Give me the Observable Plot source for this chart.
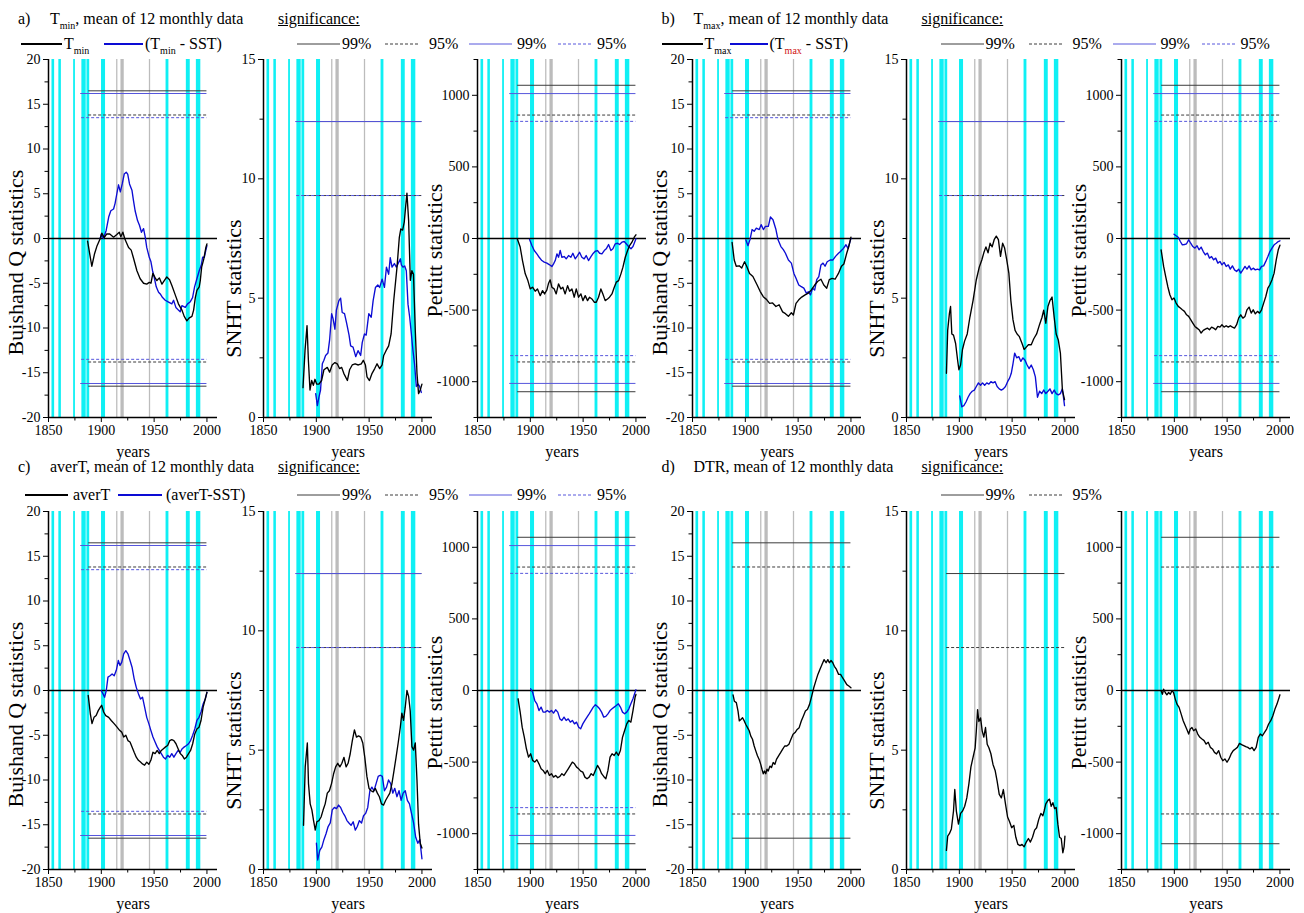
<!DOCTYPE html>
<html><head><meta charset="utf-8">
<script src="https://cdn.jsdelivr.net/npm/d3@7"></script>
<script src="https://cdn.jsdelivr.net/npm/@observablehq/plot@0.6"></script>
<style>
body{margin:0;background:#fff;}
#root{position:relative;width:1304px;height:913px;font-family:"Liberation Serif","Times New Roman",serif;color:#000;overflow:hidden;background:#fff}
#root svg, #root svg text{font-family:"Liberation Serif","Times New Roman",serif !important}
.t{position:absolute;white-space:nowrap;line-height:16px;font-size:16px}
.t sub{font-size:10px;vertical-align:-5px;line-height:0}
.u{text-decoration:underline}
.seg{position:absolute;overflow:visible}
svg [aria-label="x-axis label"]{font-size:16px}
</style></head>
<body><div id="root"></div>
<script>
// ---------- data ----------
const xMajor = [1850, 1900, 1950, 2000];
const xMinor = [1875, 1925, 1975];
const cyanBars = [[1853.3,1855.8],[1859.8,1862.2],[1873.8,1875.5],[1881.6,1885.7],[1886.4,1889],[1900.2,1904],[1961.3,1964],[1980.5,1984.2],[1990,1994.2]];
const greyBars = [[1914.5,1915.7],[1918.6,1921.7],[1945.5,1946.7]];

// critical values [black series, blue series]
const critQ99 = [16.5, 16.2], critQ95 = [13.8, 13.5];
const critS99 = [12.4, 12.4], critS95 = [9.3, 9.3];
const critP99 = [1070, 1012], critP95 = [862, 818];
const critStart = [1888, 1880.5], critEnd = 2000;

// a) Tmin
const aQ_T = [[1887,-0.3],[1891,-3.1],[1893.6,-1.7],[1896,-0.8],[1899,0],[1900.5,0.6],[1902.7,0.1],[1905,0.5],[1908,0.5],[1911.6,0.15],[1914.7,0.45],[1917,0.7],[1918.5,0.2],[1920.4,0.7],[1922.6,-0.15],[1925.8,-1.0],[1928.3,-1.3],[1930.5,-2.2],[1933.7,-3.6],[1936.8,-4.5],[1940,-5.0],[1943,-5.1],[1945.4,-4.9],[1947,-5.0],[1948.8,-3.9],[1951,-4.4],[1952.6,-4.7],[1955,-4.4],[1957.4,-5.1],[1959.6,-4.7],[1962,-4.3],[1964.6,-4.6],[1966.8,-5.25],[1970,-6.3],[1973,-7.3],[1976.3,-8.0],[1978.5,-8.7],[1981,-9.2],[1983,-8.9],[1985.8,-8.7],[1987.4,-8.0],[1989,-6.6],[1990.5,-5.8],[1992.7,-5.4],[1993.7,-4.7],[1995,-3.2],[1997,-2.3],[1999,-1.0],[2000,-0.6]];
const aQ_S = [[1899,0],[1900,0.5],[1902,0],[1904.6,0.9],[1907,2.4],[1909,3.1],[1911.6,3.3],[1913,3.9],[1914.7,5.0],[1916.3,6.0],[1918,5.2],[1919.8,6.1],[1921.7,7.2],[1923.6,7.4],[1925,7.2],[1926.7,6.1],[1929,5.4],[1930.5,4.2],[1932,3.1],[1934.3,2.0],[1936.2,1.45],[1938,0.7],[1940,1.1],[1941.6,0.15],[1943,-1.0],[1945.4,-2.1],[1947,-2.6],[1948.5,-3.6],[1950,-4.3],[1952,-5.4],[1954.2,-6.0],[1955.8,-6.2],[1958,-6.6],[1960.5,-6.9],[1963.7,-7.1],[1966.8,-7.3],[1968.4,-6.9],[1970.6,-7.7],[1973,-8.0],[1974.7,-8.2],[1976.3,-7.5],[1979.5,-7.7],[1981.7,-7.3],[1984,-7.1],[1986.4,-6.6],[1988.3,-5.4],[1990.5,-4.5],[1992.7,-3.6],[1994.6,-3.0],[1995.9,-2.1],[1997.5,-2.1],[1999,-1.3],[2000,-0.8]];
const aS_T = [[1887.4,1.25],[1889.3,2.8],[1891.2,3.85],[1892.5,2.4],[1894,1.15],[1895.6,1.55],[1897.2,1.35],[1898.7,1.6],[1900.3,1.4],[1902.5,1.4],[1905,1.55],[1907.2,2.0],[1910.4,2.1],[1912.6,1.9],[1915,2.2],[1917.6,2.3],[1919.8,2.25],[1922,2.05],[1924,2.1],[1926,1.85],[1929.4,1.55],[1931.5,2.0],[1934,2.2],[1936.7,2.25],[1939.8,2.2],[1942.6,2.25],[1944.5,2.4],[1946.5,2.2],[1948,1.7],[1950.3,1.55],[1952.8,1.85],[1955.3,2.05],[1957.5,2.25],[1960,2.05],[1962.3,2.2],[1963.8,2.6],[1966,2.8],[1968.5,3.0],[1970.8,3.5],[1973.3,4.9],[1976.4,6.3],[1978.6,7.55],[1980,7.9],[1981.7,7.85],[1983.3,8.2],[1984.8,8.95],[1985.8,9.4],[1987.4,8.25],[1989,5.75],[1990.5,6.15],[1992,6.0],[1993.7,3.65],[1995.3,1.85],[1996.8,1.0],[1998.4,1.15],[2000,1.4]];
const aS_S = [[1899.4,1.0],[1901,0.5],[1902.5,0.85],[1904,1.15],[1905.7,2.25],[1907.2,2.4],[1908.8,2.6],[1911,2.7],[1912.6,3.25],[1914.5,4.35],[1915.8,4.15],[1917.6,3.7],[1919,4.5],[1921.4,4.9],[1923,5.0],[1924.5,4.4],[1926.7,4.35],[1928.7,3.95],[1931,3.45],[1932.5,3.0],[1934.8,2.95],[1937.3,2.55],[1939.5,2.8],[1942,2.6],[1943.5,3.15],[1945.6,3.5],[1947.2,3.45],[1949.7,4.35],[1952,4.2],[1953.8,4.9],[1956,5.45],[1958.2,5.55],[1960,5.45],[1962.3,5.8],[1964.5,5.45],[1966.4,6.3],[1968.5,6.0],[1970,6.7],[1971.7,6.3],[1973.9,6.45],[1975.8,6.3],[1978,6.5],[1979.6,6.65],[1980.5,6.4],[1982,6.3],[1983.7,6.35],[1985.2,6.15],[1986.8,4.75],[1988.4,4.2],[1990,3.5],[1991.5,2.8],[1993,2.25],[1994.7,1.3],[1996.3,1.4],[1997.8,1.3],[1999.4,1.05]];
const aP_T = [[1887.9,-7],[1890.4,-60],[1892.6,-154],[1895.2,-247],[1897.7,-294],[1899.9,-352],[1902.1,-340],[1904.6,-368],[1906.8,-352],[1909.4,-399],[1911.6,-364],[1913.5,-387],[1915.7,-359],[1917.3,-312],[1918.8,-289],[1920.4,-340],[1922.6,-352],[1924.5,-387],[1926.7,-317],[1928.9,-352],[1930.8,-340],[1933,-387],[1935.3,-329],[1937.2,-368],[1939.4,-352],[1941.6,-410],[1943.5,-352],[1945.7,-410],[1947.9,-387],[1949.8,-434],[1952,-399],[1954.2,-434],[1956.1,-410],[1958.3,-422],[1960.5,-445],[1962.4,-445],[1964.6,-410],[1966.8,-352],[1968.7,-387],[1970.9,-434],[1973.1,-422],[1975,-410],[1977.3,-387],[1979.5,-340],[1981.4,-305],[1983.6,-294],[1985.8,-247],[1987.7,-200],[1989.9,-131],[1992.1,-84],[1994,-49],[1996.2,-26],[1998.4,9],[2000,26]];
const aP_S = [[1899.3,-7],[1901.5,-49],[1903.7,-84],[1906.2,-107],[1908.4,-131],[1910.9,-154],[1913.2,-165],[1915.7,-172],[1917.9,-182],[1920.4,-196],[1922,-177],[1923.6,-154],[1925.2,-107],[1926.7,-131],[1928.3,-84],[1929.9,-131],[1932.1,-126],[1934,-142],[1936.2,-119],[1938.4,-131],[1940.3,-103],[1942.5,-142],[1944.7,-119],[1946.6,-96],[1948.8,-131],[1951,-142],[1952.9,-119],[1955.1,-154],[1957.4,-126],[1959.2,-107],[1961.5,-89],[1963.7,-84],[1965.6,-103],[1967.8,-107],[1970,-84],[1971.9,-72],[1974.1,-42],[1976.3,-84],[1978.2,-72],[1980.4,-37],[1982.6,-33],[1984.5,-42],[1986.7,-26],[1988.9,-21],[1990.8,-37],[1993,-56],[1995.3,-72],[1997.2,-56],[1999.4,-14],[2000,-2]];

// b) Tmax
const bQ_T = [[1887.5,-0.45],[1889.5,-2.4],[1891.4,-3.1],[1894.2,-3.05],[1896.6,-3.3],[1899.3,-2.6],[1901.3,-3.1],[1904,-3.9],[1907.2,-4.25],[1911.2,-5.2],[1914,-5.9],[1917,-6.5],[1920,-6.8],[1923,-7.25],[1925.8,-7.2],[1929,-7.6],[1932,-7.4],[1935.3,-8.2],[1938,-8.4],[1940.8,-8.7],[1943.6,-8.3],[1945.5,-8.55],[1948,-7.25],[1950.6,-6.85],[1953.4,-6.55],[1956.6,-6.3],[1959.7,-6.1],[1962.5,-5.75],[1965.7,-5.2],[1968.4,-4.8],[1971.6,-4.55],[1974.3,-5.2],[1977.1,-5.55],[1979.5,-4.6],[1982.2,-4.45],[1985,-4.55],[1988.2,-3.9],[1991,-3.1],[1993.3,-2.85],[1996,-1.65],[1998,-0.9],[2000,0.15]];
const bQ_S = [[1900.5,-0.15],[1902.5,-0.8],[1904.5,-0.1],[1906.4,1.0],[1908.4,0.8],[1910.4,1.15],[1913.2,1.0],[1915,1.55],[1917.1,1.0],[1919,1.35],[1921.8,1.35],[1923.8,2.4],[1926.2,2.1],[1929,1.0],[1931,-0.15],[1933.7,-0.9],[1936,-1.25],[1938,-1.65],[1940.8,-2.4],[1943.6,-2.75],[1946,-3.9],[1948,-4.45],[1950.6,-5.2],[1952.6,-5.35],[1955.4,-5.55],[1957.8,-6.1],[1959.7,-5.95],[1961.7,-6.3],[1963.7,-5.55],[1965.7,-5.75],[1967.6,-4.6],[1969.6,-4.25],[1971.6,-2.95],[1973.6,-2.75],[1975.5,-3.1],[1977.5,-2.6],[1980.3,-2.4],[1983,-2.4],[1985.4,-2.0],[1988.2,-1.65],[1990.1,-1.45],[1992.9,-1.1],[1995.3,-0.7],[1997.2,-1.1],[2000,0]];
const bS_T = [[1887.8,1.85],[1889,3.65],[1890.6,4.35],[1891.7,4.65],[1892.9,3.5],[1894.5,3.45],[1896.5,3.1],[1898.4,2.4],[1899.6,2.0],[1901.2,2.2],[1903,2.85],[1905,3.2],[1907.5,3.5],[1910,4.2],[1913,4.9],[1916,5.75],[1918.9,6.3],[1921.3,6.6],[1923.2,6.9],[1925.2,7.15],[1927.2,6.9],[1929.1,7.3],[1931.1,7.15],[1933,7.45],[1935,7.6],[1937,7.45],[1939,6.75],[1941,7.3],[1942.9,7.1],[1944.9,6.6],[1946.9,6.05],[1948.8,4.9],[1950.8,4.1],[1952.8,3.65],[1954.7,3.5],[1956.7,3.4],[1959.4,3.1],[1961.4,2.85],[1963.4,2.95],[1965.4,3.05],[1968.1,3.05],[1970.5,3.3],[1973.2,3.5],[1976,3.9],[1978.3,4.2],[1979.9,4.5],[1981.9,3.95],[1983.9,4.65],[1985.8,4.9],[1987.8,5.05],[1989.8,4.2],[1991.7,3.5],[1993.7,3.25],[1995.7,2.7],[1997.6,1.15],[1999.6,0.75]];
const bS_S = [[1900.4,0.9],[1902.4,0.45],[1904.3,0.5],[1906.3,0.65],[1908.3,0.85],[1910.2,1.0],[1912.2,1.1],[1914.2,1.15],[1916.1,1.3],[1918.1,1.45],[1920.1,1.35],[1922,1.45],[1924,1.35],[1926,1.45],[1928,1.4],[1929.9,1.5],[1931.9,1.45],[1933.9,1.5],[1935.8,1.3],[1937.8,1.2],[1939.8,1.15],[1941.7,1.2],[1943.7,1.3],[1945.7,1.5],[1947.6,1.65],[1949.2,1.85],[1950.8,2.25],[1952.4,2.7],[1954.3,2.5],[1956.3,2.55],[1958.3,2.35],[1960.2,2.5],[1962.2,2.4],[1964.2,2.2],[1966.1,2.05],[1968.1,2.2],[1970.1,2.0],[1972,1.7],[1974,0.85],[1976,1.1],[1978,1.0],[1979.9,1.15],[1981.9,1.0],[1983.9,1.1],[1985.8,1.2],[1987.8,1.0],[1989.8,1.15],[1991.7,1.0],[1993.7,0.95],[1995.7,1.0],[1997.6,1.2],[1999.6,0.5]];
const bP_T = [[1887.5,-79],[1889.9,-195],[1891.8,-265],[1893.8,-335],[1895.8,-393],[1897.8,-428],[1899.7,-416],[1901.7,-451],[1903.7,-474],[1905.7,-486],[1907.6,-498],[1909.6,-509],[1911.6,-533],[1913.6,-544],[1915.5,-567],[1917.5,-591],[1919.5,-614],[1921.5,-626],[1923.4,-637],[1925.4,-660],[1927.4,-642],[1929.4,-633],[1931.3,-626],[1933.3,-637],[1935.3,-619],[1937.2,-626],[1939.2,-637],[1941.2,-614],[1943.2,-619],[1945.1,-602],[1947.1,-619],[1949.1,-609],[1951.1,-619],[1953,-609],[1955,-619],[1957,-626],[1959,-602],[1960.9,-556],[1962.9,-533],[1964.9,-556],[1966.9,-544],[1968.8,-498],[1970.8,-479],[1972.8,-521],[1974.7,-498],[1976.7,-526],[1978.7,-509],[1980.7,-521],[1982.6,-498],[1984.6,-451],[1986.6,-405],[1988.6,-347],[1990.5,-323],[1992.5,-288],[1994.5,-242],[1996.5,-149],[1998.4,-79],[2000,-47]];
const bP_S = [[1899.7,30],[1901.7,19],[1903.7,9],[1905.7,-21],[1907.6,-44],[1909.6,-42],[1911.6,-37],[1913.6,-9],[1915.5,-33],[1917.5,-56],[1919.5,-67],[1921.5,-51],[1923.4,-79],[1925.4,-60],[1927.4,-91],[1929.4,-114],[1931.3,-102],[1933.3,-137],[1935.3,-126],[1937.2,-149],[1939.2,-137],[1941.2,-172],[1943.2,-160],[1945.1,-184],[1947.1,-167],[1949.1,-195],[1951.1,-184],[1953,-214],[1955,-191],[1957,-219],[1959,-230],[1960.9,-214],[1962.9,-242],[1964.9,-219],[1966.9,-195],[1968.8,-214],[1970.8,-191],[1972.8,-219],[1974.7,-207],[1976.7,-219],[1978.7,-214],[1980.7,-219],[1982.6,-195],[1984.6,-191],[1986.6,-160],[1988.6,-126],[1990.5,-91],[1992.5,-67],[1994.5,-44],[1996.5,-33],[1998.4,-21],[2000,-16]];

// c) averT
const cQ_T = [[1887.6,-0.55],[1889.6,-2.6],[1891.2,-3.7],[1893.1,-3.0],[1895.1,-2.8],[1897.1,-2.25],[1899.1,-1.85],[1900.3,-1.65],[1902.2,-2.4],[1904.2,-2.8],[1907,-3.0],[1909.4,-3.35],[1912.1,-3.7],[1914.9,-4.1],[1917.3,-4.45],[1919.3,-4.65],[1921.2,-5.2],[1923.2,-5.0],[1925.2,-5.6],[1927.2,-5.75],[1929.1,-6.3],[1931.1,-6.9],[1933.1,-7.45],[1935.1,-7.8],[1937.1,-8.0],[1939,-8.2],[1941,-8.35],[1943,-8.0],[1945,-8.25],[1946.9,-7.8],[1948.9,-6.9],[1950.9,-7.05],[1952.9,-6.7],[1954.9,-7.05],[1956.8,-6.7],[1958.8,-6.5],[1960.8,-6.3],[1962.8,-6.15],[1964.8,-5.6],[1966.7,-5.5],[1968.7,-5.6],[1970.7,-5.95],[1972.7,-6.5],[1974.7,-7.05],[1976.6,-7.25],[1978.6,-7.65],[1980.6,-7.45],[1982.6,-7.05],[1984.5,-6.7],[1986.5,-5.95],[1988.5,-4.85],[1990.5,-4.3],[1992.5,-4.1],[1994.4,-3.35],[1996.4,-1.85],[1998.4,-0.95],[2000,-0.2]];
const cQ_S = [[1899.9,0],[1901.5,-0.35],[1903.1,-0.75],[1904.7,0],[1906.3,1.5],[1908.3,1.65],[1910.2,1.85],[1912.2,1.65],[1914.2,2.25],[1916.1,3.35],[1917.7,2.8],[1919.3,3.15],[1921.2,4.1],[1923.2,4.45],[1925.2,4.1],[1927.2,3.35],[1929.1,2.6],[1931.1,1.3],[1933.1,0.35],[1935.1,-0.35],[1937.1,-0.95],[1939,-0.75],[1941,-1.85],[1943,-3.0],[1945,-3.7],[1946.9,-4.45],[1948.9,-5.2],[1950.9,-5.75],[1952.9,-6.3],[1954.9,-6.7],[1956.8,-7.05],[1958.8,-7.45],[1960.8,-7.65],[1962.8,-7.25],[1964.8,-7.45],[1966.7,-7.05],[1968.7,-7.45],[1970.7,-7.05],[1972.7,-6.7],[1974.7,-6.9],[1976.6,-6.5],[1978.6,-6.3],[1980.6,-6.15],[1982.6,-5.95],[1984.5,-5.6],[1986.5,-5.0],[1988.5,-4.3],[1990.5,-3.35],[1992.5,-3.0],[1994.4,-2.4],[1996.4,-1.5],[1998.4,-0.95],[2000,-0.2]];
const cS_T = [[1887.9,1.85],[1889.5,4.3],[1891.5,5.3],[1892.6,3.6],[1894.2,2.75],[1895.8,2.5],[1897.4,2.05],[1899,1.65],[1900.5,2.0],[1902.5,2.05],[1904.5,2.2],[1906.5,2.5],[1908.4,2.75],[1910.4,3.2],[1912.4,3.3],[1914.4,3.6],[1916.3,4.0],[1918.3,4.3],[1920.3,4.45],[1922.3,4.3],[1924.2,4.45],[1926.2,4.7],[1928.2,4.3],[1930.1,4.45],[1932.1,4.85],[1934.1,5.4],[1936.1,5.85],[1938,5.55],[1940,5.6],[1942,5.55],[1944,5.3],[1945.9,4.7],[1947.9,3.9],[1949.9,3.4],[1951.8,3.3],[1953.8,3.25],[1955.8,3.4],[1957.8,3.2],[1959.7,3.05],[1961.7,2.75],[1963.7,2.7],[1965.7,2.9],[1967.6,3.05],[1969.6,3.2],[1971.6,3.6],[1973.6,4.15],[1975.5,4.7],[1977.5,5.3],[1979.5,5.95],[1981,6.55],[1982.6,6.25],[1984.2,6.8],[1985.8,7.5],[1987.4,7.25],[1988.9,6.65],[1990.5,5.15],[1992.1,5.0],[1993.7,5.3],[1995.3,3.75],[1996.8,1.9],[1998.4,1.1],[2000,0.9]];
const cS_S = [[1900.1,1.1],[1901.3,0.4],[1903.3,0.8],[1905.3,0.95],[1907.2,1.25],[1909.2,1.5],[1911.2,1.8],[1913.2,1.95],[1915.1,2.5],[1917.1,2.6],[1919.1,2.55],[1921.1,2.7],[1923,2.6],[1925,2.4],[1927,2.25],[1929,2.05],[1930.9,1.95],[1932.9,1.85],[1934.9,2.0],[1936.9,1.65],[1938.8,1.8],[1940.8,2.05],[1942.8,1.95],[1944.7,2.25],[1946.7,2.35],[1948.7,2.6],[1950.7,3.3],[1952.6,3.45],[1954.6,3.3],[1956.6,3.6],[1958.6,3.9],[1960.5,3.95],[1962.5,3.9],[1964.5,3.3],[1966.5,3.45],[1968.4,3.75],[1970.4,3.6],[1972.4,3.2],[1974.3,3.4],[1976.3,3.05],[1978.3,3.3],[1980.3,2.9],[1982.2,3.2],[1984.2,3.3],[1986.2,2.9],[1988.2,2.75],[1990.1,2.35],[1992.1,1.95],[1994.1,1.35],[1996.1,1.1],[1998,1.25],[2000,0.45]];
const cP_T = [[1888.4,-58],[1890.4,-151],[1892.3,-256],[1894.3,-326],[1896.3,-407],[1898.3,-465],[1900.3,-442],[1902.2,-488],[1904.2,-500],[1906.2,-484],[1908.2,-512],[1910.2,-547],[1912.1,-558],[1914.1,-581],[1916.1,-558],[1918.1,-593],[1920,-581],[1922,-605],[1924,-593],[1926,-609],[1928,-600],[1929.9,-581],[1931.9,-593],[1933.9,-570],[1935.9,-547],[1937.9,-523],[1939.8,-500],[1941.8,-512],[1943.8,-535],[1945.8,-547],[1947.7,-563],[1949.7,-570],[1951.7,-605],[1953.7,-616],[1955.7,-605],[1957.6,-581],[1959.6,-593],[1961.6,-558],[1963.6,-523],[1965.6,-547],[1967.5,-581],[1969.5,-600],[1971.5,-616],[1973.5,-558],[1975.5,-465],[1977.4,-442],[1979.4,-454],[1981.4,-430],[1983.4,-454],[1985.3,-419],[1987.3,-326],[1989.3,-279],[1991.3,-233],[1993.3,-209],[1995.2,-221],[1997.2,-140],[1999.2,-47],[2000,-28]];
const cP_S = [[1900.3,12],[1902.2,-12],[1904.2,-70],[1906.2,-93],[1908.2,-140],[1910.2,-116],[1912.1,-151],[1914.1,-151],[1916.1,-140],[1918.1,-151],[1920,-140],[1922,-158],[1924,-135],[1926,-151],[1928,-198],[1929.9,-209],[1931.9,-186],[1933.9,-209],[1935.9,-198],[1937.9,-221],[1939.8,-209],[1941.8,-233],[1943.8,-221],[1945.8,-256],[1947.7,-267],[1949.7,-233],[1951.7,-209],[1953.7,-186],[1955.7,-163],[1957.6,-140],[1959.6,-116],[1961.6,-100],[1963.6,-112],[1965.6,-128],[1967.5,-151],[1969.5,-186],[1971.5,-181],[1973.5,-163],[1975.5,-140],[1977.4,-128],[1979.4,-116],[1981.4,-105],[1983.4,-93],[1985.3,-116],[1987.3,-151],[1989.3,-163],[1991.3,-151],[1993.3,-128],[1995.2,-93],[1997.2,-58],[1999.2,-12],[2000,5]];

// d) DTR
const dQ_T = [[1888.4,-0.5],[1889.6,-1.2],[1891.5,-1.35],[1893.1,-2.3],[1894.3,-3.4],[1895.8,-3.25],[1897.4,-3.05],[1899,-3.4],[1900.5,-3.8],[1902.1,-4.15],[1903.7,-4.5],[1905.2,-5.1],[1906.8,-5.45],[1908.4,-6.2],[1909.9,-6.75],[1911.5,-7.3],[1913.1,-7.7],[1914.6,-8.25],[1915.8,-8.8],[1917,-9.3],[1918.2,-9.0],[1919.3,-9.3],[1920.5,-8.8],[1921.7,-9.0],[1923.3,-8.45],[1924.8,-8.6],[1926.4,-8.05],[1928,-8.25],[1929.5,-7.7],[1931.5,-7.3],[1933.4,-6.95],[1935.4,-6.55],[1937.3,-6.2],[1939.3,-6.2],[1941.3,-6.0],[1943.2,-5.45],[1945.2,-4.9],[1947.1,-4.7],[1949.1,-4.35],[1951,-4.15],[1953,-3.4],[1955,-2.85],[1956.9,-2.3],[1958.9,-2.1],[1960.8,-1.55],[1962.8,-0.65],[1964.8,0.3],[1966.7,1.05],[1968.7,1.8],[1970.6,2.35],[1972.6,2.9],[1974.6,3.45],[1976.5,3.1],[1978.1,3.45],[1979.6,3.1],[1981.2,3.35],[1982.8,3.1],[1984.3,2.7],[1986.3,2.35],[1988.3,1.8],[1990.2,1.8],[1992.2,1.4],[1994.1,1.05],[1996.1,0.65],[1998,0.5],[2000,0.3]];
const dS_T = [[1887.8,0.8],[1889,1.4],[1890.6,1.5],[1892.5,1.7],[1894.5,2.45],[1895.7,3.35],[1897.2,2.45],[1899.2,1.9],[1901.2,2.35],[1903.1,2.45],[1905.1,2.65],[1907.1,3.0],[1909.1,3.6],[1911,4.3],[1913,4.7],[1915,5.1],[1916.1,5.8],[1917.3,6.7],[1918.5,6.2],[1920.1,6.35],[1921.7,5.8],[1923.2,5.55],[1924.8,5.95],[1926.4,5.25],[1928,5.1],[1929.9,4.85],[1931.9,4.4],[1933.9,4.15],[1935.8,3.7],[1937.8,3.15],[1939.8,3.0],[1941.7,3.35],[1943.7,2.75],[1945.7,2.2],[1947.6,2.0],[1949.6,1.75],[1951.6,1.85],[1953.5,1.35],[1955.5,1.05],[1957.5,1.0],[1959.4,1.05],[1961.4,0.95],[1963.4,1.15],[1965.4,1.3],[1967.3,1.15],[1969.3,1.35],[1971.3,1.65],[1973.2,1.75],[1975.2,2.1],[1977.2,2.35],[1979.1,2.25],[1980.3,2.45],[1981.9,2.75],[1983.9,2.9],[1985.4,2.95],[1987,2.65],[1988.6,2.8],[1990.2,2.55],[1991.7,2.6],[1993.3,1.9],[1994.9,1.35],[1996.5,1.3],[1998,0.7],[1999.2,0.95],[2000,1.4]];
const dP_T = [[1887.5,-2],[1888.7,-26],[1889.9,9],[1891.4,-14],[1893,-30],[1894.6,-14],[1896.2,-26],[1897.8,-2],[1899.3,-14],[1900.9,-60],[1902.5,-95],[1904.5,-118],[1906.5,-165],[1908.4,-211],[1910.4,-246],[1912.4,-281],[1913.6,-304],[1915.1,-269],[1916.7,-258],[1918.3,-281],[1920.3,-269],[1922.2,-304],[1924.2,-327],[1926.2,-339],[1928.2,-350],[1930.1,-374],[1932.1,-362],[1934.1,-397],[1936.1,-408],[1938,-432],[1940,-443],[1942,-420],[1944,-466],[1945.9,-490],[1947.9,-478],[1949.9,-501],[1951.8,-478],[1953.8,-443],[1955.8,-420],[1957.8,-408],[1959.7,-397],[1961.7,-369],[1963.7,-378],[1965.7,-385],[1967.6,-392],[1969.6,-397],[1971.6,-408],[1973.6,-397],[1975.5,-420],[1977.5,-397],[1979.5,-327],[1981.4,-304],[1983.4,-316],[1985.4,-292],[1987.4,-269],[1989.3,-234],[1991.3,-211],[1993.3,-176],[1995.3,-130],[1997.2,-95],[1999.2,-49],[2000,-30]];

// ---------- style ----------
const CYAN = "#0ff0f4", GREY = "#bcbcbc", BLUE = "#0c0cd4";
const SIGK = "#3c3c3c", SIGB = "#5656dc";
const INNER_W = 169, INNER_H = 358, ML = 58, MR = 12, MT = 12, MB = 52;
const colX = [0, 643.5];
const panelX = [48.3, 262.7, 477.3];
const rowTop = [59, 511];
const DASH = "3,2";

const TYPES = {
  Q: {domain: [-20, 20], ticks: d3.range(-20, 21, 5), minor: d3.range(-17.5, 18, 5), label: "Buishand Q statistics", off: 41, shift: 24, zero: true, c99: critQ99, c95: critQ95, sym: true},
  S: {domain: [0, 15], ticks: [0, 5, 10, 15], minor: [2.5, 7.5, 12.5], label: "SNHT statistics", off: 38, shift: 50, zero: false, c99: critS99, c95: critS95, sym: false},
  P: {domain: [-1250, 1250], ticks: [-1000, -500, 0, 500, 1000], minor: [-1250, -750, -250, 250, 750, 1250], label: "Pettitt statistics", off: 51, shift: 12, zero: true, c99: critP99, c95: critP95, sym: true}
};

function sigRows(T, nSeries) {
  const rows = [];
  for (let k = 0; k < nSeries; k++) {
    const signs = T.sym ? [1, -1] : [1];
    for (const s of signs) {
      rows.push({v: s * T.c99[k], lvl: 99, k});
      rows.push({v: s * T.c95[k], lvl: 95, k});
    }
  }
  return rows;
}

const root = document.getElementById("root");
const pxPerYear = INNER_W / 160;
const blueDashOffset = ((((critStart[1] - critStart[0]) * pxPerYear - 3) % 5) + 5) % 5;

function panel(col, row, idx, type, black, blue) {
  const T = TYPES[type];
  const sig = sigRows(T, blue ? 2 : 1);
  const marks = [
    Plot.rect(cyanBars, {x1: d => d[0], x2: d => d[1], fill: CYAN}),
    Plot.rect(greyBars, {x1: d => d[0], x2: d => d[1], fill: GREY}),
  ];
  for (const k of (blue ? [0, 1] : [0])) {
    for (const lvl of [99, 95]) {
      marks.push(Plot.ruleY(sig.filter(r => r.k === k && r.lvl === lvl), {
        y: "v", x1: critStart[k], x2: critEnd,
        stroke: k ? SIGB : SIGK, strokeWidth: 1,
        strokeDasharray: lvl === 95 ? DASH : null,
        strokeDashoffset: k ? blueDashOffset : 0
      }));
    }
  }
  if (T.zero) marks.push(Plot.ruleY([0], {stroke: "#000", strokeWidth: 1.6}));
  if (blue) marks.push(Plot.line(blue, {x: d => d[0], y: d => d[1], stroke: BLUE, strokeWidth: 1.35}));
  marks.push(Plot.line(black, {x: d => d[0], y: d => d[1], stroke: "#000", strokeWidth: 1.35}));
  marks.push(Plot.ruleX([1850], {stroke: "#000", strokeWidth: 1.5}));
  marks.push(Plot.ruleY([T.domain[0]], {stroke: "#000", strokeWidth: 1.5}));
  marks.push(Plot.axisX({ticks: xMajor, tickSize: 5, tickPadding: 3, tickFormat: d => String(d), label: "years", labelAnchor: "center", labelOffset: 39, labelArrow: "none"}));
  marks.push(Plot.axisX({ticks: xMinor, tickSize: 3.5, tickFormat: () => "", label: null}));
  marks.push(Plot.axisY({ticks: T.ticks, tickSize: 5, tickPadding: 3, tickFormat: d => String(d), label: null}));
  marks.push(Plot.axisY({ticks: T.minor, tickSize: 3.5, tickFormat: () => "", label: null}));
  // y-axis title (rotated, placed a little below the frame centre as in the reference)
  marks.push(Plot.text([T.label], {text: d => d, frameAnchor: "left", rotate: -90, lineAnchor: "top", textAnchor: "middle", dx: -T.off, dy: T.shift, fontSize: 22, fill: "#000"}));

  const svg = Plot.plot({
    width: ML + INNER_W + MR, height: MT + INNER_H + MB,
    marginLeft: ML, marginRight: MR, marginTop: MT, marginBottom: MB,
    x: {domain: [1850, 2010]}, y: {domain: T.domain},
    style: {fontFamily: '"Liberation Serif", "Times New Roman", serif', fontSize: "14px", background: "none", overflow: "visible", color: "#000"},
    marks
  });
  svg.style.position = "absolute";
  svg.style.left = (colX[col] + panelX[idx] - ML) + "px";
  svg.style.top = (rowTop[row] - MT) + "px";
  root.appendChild(svg);
}

panel(0, 0, 0, "Q", aQ_T, aQ_S);
panel(0, 0, 1, "S", aS_T, aS_S);
panel(0, 0, 2, "P", aP_T, aP_S);
panel(1, 0, 0, "Q", bQ_T, bQ_S);
panel(1, 0, 1, "S", bS_T, bS_S);
panel(1, 0, 2, "P", bP_T, bP_S);
panel(0, 1, 0, "Q", cQ_T, cQ_S);
panel(0, 1, 1, "S", cS_T, cS_S);
panel(0, 1, 2, "P", cP_T, cP_S);
panel(1, 1, 0, "Q", dQ_T, null);
panel(1, 1, 1, "S", dS_T, null);
panel(1, 1, 2, "P", dP_T, null);

// ---------- headers ----------
function txt(x, yc, html, cls) {
  const d = document.createElement("div");
  d.className = "t" + (cls ? " " + cls : "");
  d.style.left = x + "px"; d.style.top = (yc - 8) + "px";
  d.innerHTML = html;
  root.appendChild(d);
}
function seg(x1, x2, yc, color, w, dash) {
  const ns = "http://www.w3.org/2000/svg";
  const s = document.createElementNS(ns, "svg");
  s.setAttribute("class", "seg");
  s.setAttribute("width", x2 - x1); s.setAttribute("height", 6);
  s.style.left = x1 + "px"; s.style.top = (yc - 3) + "px";
  const l = document.createElementNS(ns, "line");
  l.setAttribute("x1", 0); l.setAttribute("x2", x2 - x1);
  l.setAttribute("y1", 3); l.setAttribute("y2", 3);
  l.setAttribute("stroke", color); l.setAttribute("stroke-width", w);
  if (dash) l.setAttribute("stroke-dasharray", dash);
  s.appendChild(l);
  root.appendChild(s);
}

const headers = [
  {x: 0, y1: 19, y2: 44, letter: "a)", title: "T<sub>min</sub>, mean of 12 monthly data", l1: "T<sub>min</sub>", l2: "(T<sub>min</sub> - SST)", s: [21, 62, 64, 104, 143, 145], full: true},
  {x: 643.5, y1: 19, y2: 44, letter: "b)", title: "T<sub>max</sub>, mean of 12 monthly data", l1: "T<sub>max</sub>", l2: "(T<sub style='color:#d01010'>max</sub> - SST)", s: [18, 59, 61, 86, 124, 126], full: true},
  {x: 0, y1: 467, y2: 495, letter: "c)", title: "averT, mean of 12 monthly data", l1: "averT", l2: "(averT-SST)", s: [25, 68, 73, 118, 162, 166], full: true},
  {x: 643.5, y1: 467, y2: 495, letter: "d)", title: "DTR, mean of 12 monthly data", l1: null, l2: null, s: null, full: false}
];
for (const h of headers) {
  txt(h.x + 18, h.y1, h.letter);
  txt(h.x + 50, h.y1, h.title);
  txt(h.x + 278, h.y1, "significance:", "u");
  if (h.l1) {
    seg(h.x + h.s[0], h.x + h.s[1], h.y2, "#000", 2);
    txt(h.x + h.s[2], h.y2, h.l1);
    seg(h.x + h.s[3], h.x + h.s[4], h.y2, BLUE, 2);
    txt(h.x + h.s[5], h.y2, h.l2);
  }
  seg(h.x + 297, h.x + 340, h.y2, SIGK, 1);
  txt(h.x + 342, h.y2, "99%");
  seg(h.x + 385, h.x + 419, h.y2, SIGK, 1, DASH);
  txt(h.x + 429, h.y2, "95%");
  if (h.full) {
    seg(h.x + 469, h.x + 512, h.y2, SIGB, 1);
    txt(h.x + 517, h.y2, "99%");
    seg(h.x + 558, h.x + 591, h.y2, SIGB, 1, DASH);
    txt(h.x + 597, h.y2, "95%");
  }
}
</script>
</body></html>
